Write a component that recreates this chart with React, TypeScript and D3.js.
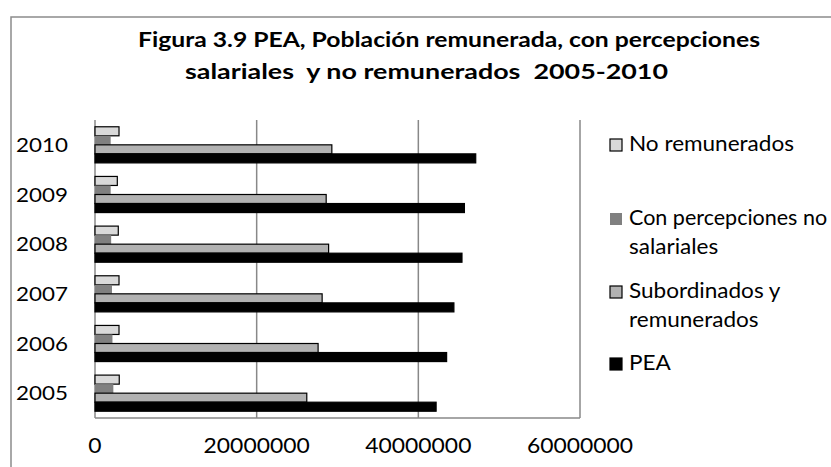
import React from "react";
import * as d3 from "d3";

const years = ["2005", "2006", "2007", "2008", "2009", "2010"];
const pea = [42.2e6, 43.5e6, 44.4e6, 45.4e6, 45.7e6, 47.1e6];
const subordinados = [26.2e6, 27.6e6, 28.1e6, 28.9e6, 28.6e6, 29.3e6];
const conPercepciones = [2.27e6, 2.16e6, 2.1e6, 2.0e6, 1.94e6, 1.94e6];
const noRemunerados = [3.0e6, 2.97e6, 2.97e6, 2.88e6, 2.76e6, 2.97e6];
const xTicks = [0, 20000000, 40000000, 60000000];
const titleLines = [
  "Figura 3.9 PEA, Población remunerada, con percepciones",
  "salariales  y no remunerados  2005-2010",
];

type Series = { key: string; label: string[]; values: number[]; fill: string; stroke: string };

// top-to-bottom order inside each category (same as legend order)
const series: Series[] = [
  { key: "nr", label: ["No remunerados"], values: noRemunerados, fill: "#d9d9d9", stroke: "#000" },
  { key: "cp", label: ["Con percepciones no", "salariales"], values: conPercepciones, fill: "#808080", stroke: "none" },
  { key: "sr", label: ["Subordinados y", "remunerados"], values: subordinados, fill: "#b2b2b2", stroke: "#000" },
  { key: "pea", label: ["PEA"], values: pea, fill: "#000", stroke: "#000" },
];

const W = 831;
const H = 467;
const plot = { left: 95, right: 580, top: 120, bottom: 418 };
const FONT = "Lato, 'Open Sans', sans-serif";

function SText(props: {
  x: number;
  y: number;
  sx: number;
  size: number;
  anchor?: string;
  weight?: string;
  children: React.ReactNode;
}) {
  const { x, y, sx, size, anchor, weight, children } = props;
  return (
    <text
      transform={`translate(${x},${y}) scale(${sx},1)`}
      fontSize={size}
      textAnchor={anchor || "start"}
      fontWeight={weight || "normal"}
      fill="#000"
      style={{ whiteSpace: "pre" }}
    >
      {children}
    </text>
  );
}

export default function App() {
  const x = d3.scaleLinear().domain([0, 60000000]).range([plot.left, plot.right]);
  const y = d3
    .scaleBand<string>()
    .domain(years.slice().reverse())
    .range([plot.top, plot.bottom])
    .padding(0);
  const inner = d3
    .scaleBand<string>()
    .domain(series.map((s) => s.key))
    .range([0, y.bandwidth()])
    .paddingInner(0)
    .paddingOuter(0.75);

  const legendY: { marker: number; lines: number[] }[] = [
    { marker: 139, lines: [151] },
    { marker: 213, lines: [225, 254] },
    { marker: 286, lines: [298, 327] },
    { marker: 358, lines: [370] },
  ];

  return (
    <svg
      width={W}
      height={H}
      style={{ position: "absolute", left: 0, top: 0, background: "#fff" }}
      fontFamily={FONT}
    >
      <rect x={0} y={0} width={W} height={H} fill="#fff" />
      {/* outer chart border */}
      <path d={`M11,${H + 5} L11,17 L${W + 5},17`} fill="none" stroke="#8c8c8c" strokeWidth={1.5} />

      {/* title */}
      <text x={138} y={47} fontSize={20.5} fontWeight="bold" fill="#000" textLength={622} lengthAdjust="spacingAndGlyphs">
        {titleLines[0]}
      </text>
      <text x={185} y={79} fontSize={20.5} fontWeight="bold" fill="#000" textLength={483} lengthAdjust="spacingAndGlyphs" style={{ whiteSpace: "pre" }}>
        {titleLines[1]}
      </text>

      {/* gridlines */}
      {xTicks.slice(1).map((t) => (
        <line key={t} x1={x(t)} x2={x(t)} y1={plot.top} y2={plot.bottom} stroke="#888" strokeWidth={1.5} />
      ))}
      {/* axis line and bottom border */}
      <line x1={x(0)} x2={x(0)} y1={plot.top} y2={plot.bottom} stroke="#888" strokeWidth={1.5} />
      <line x1={plot.left} x2={plot.right} y1={plot.bottom} y2={plot.bottom} stroke="#888" strokeWidth={1.5} />

      {/* bars */}
      {years.map((yr, i) => (
        <g key={yr} transform={`translate(0,${y(yr)})`}>
          {series.map((s) => (
            <rect
              key={s.key}
              x={x(0)}
              y={inner(s.key)!}
              width={x(s.values[i]) - x(0)}
              height={inner.bandwidth()}
              fill={s.fill}
              stroke={s.stroke}
              strokeWidth={s.stroke === "none" ? 0 : 1.2}
            />
          ))}
        </g>
      ))}

      {/* y labels */}
      {years.map((yr) => (
        <SText key={yr} x={68} y={y(yr)! + y.bandwidth() / 2 + 7} sx={1.12} size={20} anchor="end">
          {yr}
        </SText>
      ))}

      {/* x labels */}
      {xTicks.map((t) => (
        <SText key={t} x={x(t)} y={453} sx={1.09} size={21} anchor="middle">
          {String(t)}
        </SText>
      ))}

      {/* legend */}
      {series.map((s, i) => (
        <g key={s.key}>
          <rect
            x={610}
            y={legendY[i].marker}
            width={12}
            height={12}
            fill={s.fill}
            stroke={s.key === "cp" ? "none" : "#000"}
            strokeWidth={1.2}
          />
          {s.label.map((ln, j) => (
            <SText
              key={j}
              x={629}
              y={legendY[i].lines[j]}
              sx={ln.length > 16 ? 1.05 : 1.1}
              size={20.5}
            >
              {ln}
            </SText>
          ))}
        </g>
      ))}
    </svg>
  );
}
